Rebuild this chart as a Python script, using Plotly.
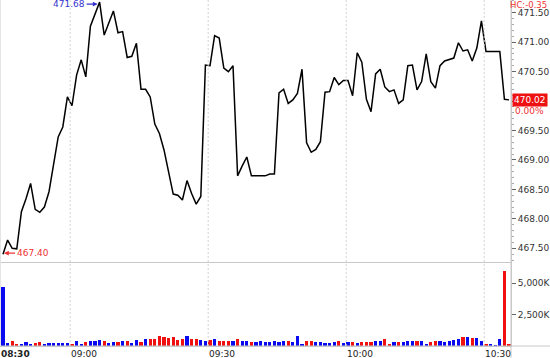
import plotly.graph_objects as go

# ---- data ----
prices = [
    467.40, 467.64, 467.50, 467.49, 468.12, 468.34, 468.60, 468.16, 468.11, 468.20,
    468.46, 468.89, 469.39, 469.56, 470.07, 469.92, 470.44, 470.70, 470.41, 471.27,
    471.48, 471.68, 471.12, 471.33, 471.53, 471.16, 471.18, 470.74, 470.76, 470.98,
    470.20, 470.20, 470.07, 469.61, 469.45, 469.17, 468.77, 468.42, 468.40, 468.32,
    468.65, 468.43, 468.25, 468.38, 470.61, 470.60, 471.11, 471.07, 470.56, 470.50,
    470.60, 468.73, 468.90, 469.05, 468.73, 468.73, 468.73, 468.73, 468.76, 468.76,
    470.14, 470.20, 469.96, 470.02, 470.13, 470.54, 469.29, 469.13, 469.18, 469.31,
    470.15, 470.16, 470.40, 470.28, 470.35, 470.35, 470.09, 470.82, 470.66, 470.03,
    469.82, 470.46, 470.54, 470.24, 470.16, 470.19, 469.96, 470.02, 470.60, 470.61,
    470.19, 470.33, 470.80, 470.33, 470.22, 470.60, 470.68, 470.70, 470.73, 470.99,
    470.85, 470.87, 470.68, 470.90, 471.36, 470.84, 470.84, 470.84, 470.84, 470.03,
    470.02,
]

volumes_k = [
    4730, 240, 380, 185, 185, 300, 185, 240, 300, 185,
    240, 240, 240, 240, 240, 185, 400, 160, 320, 400,
    400, 480, 430, 220, 320, 320, 430, 430, 240, 480,
    350, 560, 590, 590, 780, 725, 645, 725, 510, 560,
    765, 590, 565, 460, 380, 510, 590, 400, 400, 430,
    430, 565, 400, 400, 320, 350, 400, 320, 320, 380,
    320, 400, 380, 320, 780, 160, 400, 400, 320, 320,
    270, 240, 350, 380, 240, 300, 300, 220, 320, 320,
    300, 400, 400, 590, 185, 300, 300, 320, 400, 400,
    430, 400, 185, 320, 430, 430, 320, 380, 480, 590,
    700, 700, 645, 645, 380, 140, 140, 105, 565, 6020,
    185,
]

time_labels = ["08:30", "09:00", "09:30", "10:00", "10:30"]
time_label_pos = [-0.652, 14.6, 44.6, 74.6, 104.6]

price_ticks = [467.5, 468.0, 468.5, 469.0, 469.5, 470.0, 470.5, 471.0, 471.5]
hidden_price_label = 470.0   # covered by the last-price box in the reference
vol_ticks = [2500, 5000]
vol_tick_text = ["2,500K", "5,000K"]

change_text = "HC:-0.35"
pct_text = "0.00%"

# ---- figure ----
idx = list(range(len(prices)))
BLUE = "#0a0af0"
RED = "#f01010"
bar_colors = [BLUE if i == 0 or prices[i] >= prices[i - 1] else RED for i in idx]

FONT = "DejaVu Sans"
AXIS_LINE = "#c8c8c8"

fig = go.Figure()
fig.add_trace(go.Scatter(
    x=idx, y=prices, mode="lines",
    line=dict(color="#000000", width=1.5),
    xaxis="x", yaxis="y", hoverinfo="skip",
))
fig.add_trace(go.Bar(
    x=idx, y=volumes_k, width=0.72,
    marker=dict(color=bar_colors, line=dict(width=0)),
    xaxis="x2", yaxis="y2", hoverinfo="skip",
))

x_range = [-0.652, 110.43]
split = 0.2428

fig.update_layout(
    width=550, height=358,
    margin=dict(l=0, r=39, t=0, b=12),
    paper_bgcolor="white", plot_bgcolor="white",
    showlegend=False,
    bargap=0,
    font=dict(family=FONT, size=9, color="#333333"),
    xaxis=dict(
        domain=[0, 1], range=x_range, anchor="y",
        showticklabels=False, showgrid=False, zeroline=False,
        showline=True, linecolor=AXIS_LINE, linewidth=1, ticks="",
    ),
    xaxis2=dict(
        domain=[0, 1], range=x_range, anchor="y2", matches="x",
        showticklabels=False, showgrid=False, zeroline=False,
        showline=True, linecolor=AXIS_LINE, linewidth=1, ticks="",
    ),
    yaxis=dict(
        domain=[split, 1], range=[467.267, 471.716], anchor="x",
        side="right", showgrid=False, zeroline=False,
        showline=True, linecolor=AXIS_LINE, linewidth=1,
        tickvals=price_ticks,
        ticktext=["" if v == hidden_price_label else f"{v:.2f}" for v in price_ticks],
        ticks="outside", ticklen=4, tickcolor="#666666",
        tickfont=dict(family=FONT, size=9, color="#333333"),
        minor=dict(dtick=0.1, ticks="outside", ticklen=2, tickcolor="#aaaaaa"),
    ),
    yaxis2=dict(
        domain=[0, split], range=[0, 6700], anchor="x2",
        side="right", showgrid=False, zeroline=False,
        showline=True, linecolor=AXIS_LINE, linewidth=1,
        tickvals=vol_ticks, ticktext=vol_tick_text,
        ticks="outside", ticklen=4, tickcolor="#666666",
        tickfont=dict(family=FONT, size=9, color="#333333"),
    ),
)

# dotted vertical time grid
shapes = []
for p in time_label_pos[1:]:
    shapes.append(dict(type="line", xref="x", yref="paper", x0=p, x1=p, y0=0, y1=1,
                       line=dict(color="#d2d2d2", width=1, dash="2px,2px")))
# extended axis frame lines
shapes.append(dict(type="line", xref="paper", yref="paper", x0=1, x1=1, y0=-0.035, y1=1,
                   line=dict(color=AXIS_LINE, width=1)))
shapes.append(dict(type="line", xref="paper", yref="paper", x0=0, x1=1.08, y0=0, y1=0,
                   line=dict(color=AXIS_LINE, width=1)))
shapes.append(dict(type="line", xref="paper", yref="paper", x0=0.001, x1=0.001, y0=0, y1=1,
                   line=dict(color="#e4e4e4", width=1)))
fig.update_layout(shapes=shapes)

annotations = []
# time labels
for i, (lab, p) in enumerate(zip(time_labels, time_label_pos)):
    annotations.append(dict(
        xref="x2", yref="paper", x=p, y=0, xanchor="left", yanchor="top",
        yshift=-1, xshift=-1, showarrow=False,
        text=f"<b>{lab}</b>" if i == 0 else lab,
        font=dict(family=FONT, size=9, color="#222222"),
    ))

imax = max(idx, key=lambda i: prices[i])
imin = min(idx, key=lambda i: prices[i])
annotations.append(dict(
    xref="x", yref="y", x=imax, y=prices[imax], text=f"{prices[imax]:.2f}",
    showarrow=True, ax=-13, ay=0, xanchor="right", yshift=-2,
    arrowhead=2, arrowsize=0.8, arrowwidth=1.2, arrowcolor="#3333cc", standoff=2,
    font=dict(family=FONT, size=9, color="#3333cc"),
))
annotations.append(dict(
    xref="x", yref="y", x=imin, y=prices[imin], text=f"{prices[imin]:.2f}",
    showarrow=True, ax=12, ay=0, xanchor="left", yshift=1,
    arrowhead=2, arrowsize=0.8, arrowwidth=1.2, arrowcolor="#ee3333", standoff=1,
    font=dict(family=FONT, size=9, color="#ee3333"),
))
annotations.append(dict(
    xref="paper", yref="paper", x=1, y=1, xanchor="left", yanchor="top",
    xshift=-2, yshift=1, showarrow=False, text=change_text, borderpad=0,
    font=dict(family=FONT, size=8.5, color="#ee3333"),
))
annotations.append(dict(
    xref="paper", yref="y", x=1, y=prices[-1], xanchor="left", yanchor="middle",
    xshift=1, showarrow=False, text=f"{prices[-1]:.2f}",
    bgcolor="#ee1111", borderpad=1,
    font=dict(family=FONT, size=9, color="#ffffff"),
))
annotations.append(dict(
    xref="paper", yref="y", x=1, y=prices[-1], xanchor="left", yanchor="middle",
    xshift=2, yshift=-11, showarrow=False, text=pct_text,
    font=dict(family=FONT, size=9, color="#ee3333"),
))
fig.update_layout(annotations=annotations)

fig.write_html("out.html")
